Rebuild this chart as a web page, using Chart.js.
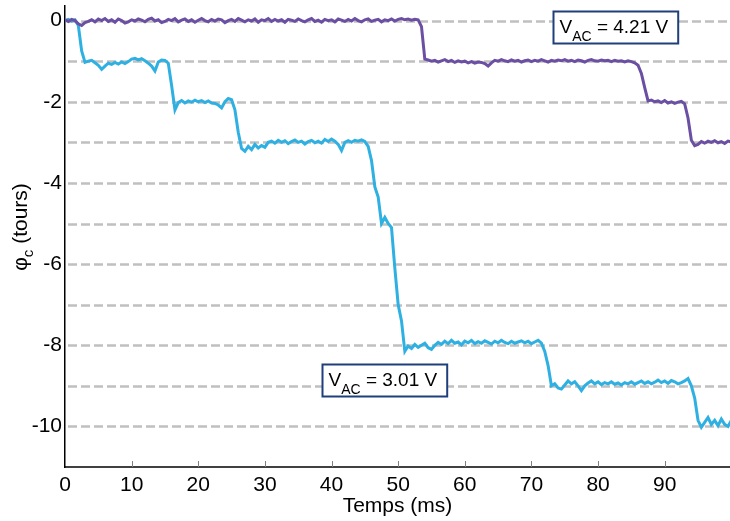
<!DOCTYPE html>
<html><head><meta charset="utf-8">
<script src="https://cdn.jsdelivr.net/npm/chart.js@4/dist/chart.umd.min.js"></script>
<style>html,body{margin:0;padding:0;background:#fff}</style>
</head><body>
<canvas id="c" width="730" height="521"></canvas>
<script>
// ---- data ----
const sampleStepMs = 0.5;
const timeMs = Array.from({length: 201}, (_, i) => i * sampleStepMs);

// V_AC = 4.21 V (purple), one value every 0.5 ms from 0 to 100 ms
const phaseHigh = [
  0.02,-0.02,0.03,0.00,-0.08,-0.12,-0.05,-0.02,0.02,-0.03,
  0.04,0.00,0.05,-0.02,0.02,-0.04,0.04,0.00,-0.06,-0.03,
  0.02,-0.01,0.04,0.01,-0.03,0.03,0.06,-0.01,0.02,-0.05,
  -0.02,0.03,0.00,0.05,-0.03,0.01,0.04,-0.02,0.02,-0.04,
  0.01,0.05,0.00,-0.03,0.03,-0.01,0.04,0.02,-0.05,0.00,
  0.03,-0.02,0.05,0.01,-0.03,0.02,-0.01,0.04,-0.04,0.02,
  0.00,0.05,-0.02,0.03,-0.01,0.02,-0.04,0.03,0.01,-0.02,
  0.04,0.00,-0.03,0.02,0.05,-0.02,0.01,-0.04,0.03,0.00,
  0.02,-0.03,0.04,0.01,-0.02,0.03,-0.01,0.05,0.00,-0.03,
  0.02,0.04,-0.02,0.01,0.03,-0.03,0.02,0.00,0.04,-0.01,
  0.03,0.05,0.02,0.04,0.01,0.03,0.02,-0.15,-0.95,-0.97,
  -1.00,-0.98,-1.02,-0.99,-0.96,-1.01,-0.98,-1.03,-0.99,-1.02,
  -1.00,-1.04,-1.01,-1.05,-1.02,-1.03,-1.06,-1.12,-1.04,-0.98,
  -1.00,-0.96,-0.99,-1.01,-0.97,-1.00,-0.98,-1.02,-0.99,-0.97,
  -1.01,-0.98,-1.00,-0.96,-0.99,-1.02,-0.98,-1.00,-0.97,-0.99,
  -0.96,-1.00,-0.98,-1.01,-0.97,-0.99,-1.02,-0.98,-0.96,-0.99,
  -1.00,-0.97,-0.99,-0.98,-1.01,-0.98,-1.00,-0.99,-1.02,-0.99,
  -1.01,-1.04,-1.10,-1.30,-1.65,-1.98,-1.96,-2.00,-1.98,-2.02,
  -1.97,-2.03,-2.00,-2.04,-2.01,-1.99,-2.05,-2.40,-2.95,-3.08,
  -3.05,-2.98,-3.02,-2.97,-3.00,-2.96,-3.01,-2.98,-3.03,-2.97,
  -2.99
];

// V_AC = 3.01 V (cyan), one value every 0.5 ms from 0 to 100 ms
const phaseLow = [
  0.00,0.03,-0.01,0.02,-0.12,-0.75,-1.03,-1.00,-0.98,-1.04,
  -1.10,-1.20,-1.12,-1.05,-1.08,-1.03,-1.07,-1.02,-1.06,-1.01,
  -0.95,-0.93,-0.97,-0.94,-0.99,-1.05,-1.12,-1.24,-1.02,-0.97,
  -0.98,-1.05,-1.60,-2.20,-2.02,-1.97,-2.03,-1.98,-2.01,-1.96,
  -2.00,-1.97,-2.02,-1.98,-2.03,-2.04,-2.08,-2.15,-2.00,-1.92,
  -1.95,-2.20,-2.75,-3.15,-3.22,-3.10,-3.18,-3.05,-3.14,-3.08,
  -3.12,-3.00,-2.97,-3.02,-2.95,-3.00,-2.96,-3.03,-2.98,-2.94,
  -3.00,-2.97,-3.04,-2.98,-2.95,-3.01,-2.97,-3.02,-2.93,-2.98,
  -2.92,-2.97,-3.05,-3.20,-3.00,-2.96,-3.00,-2.95,-2.97,-2.94,
  -2.98,-3.10,-3.45,-4.10,-4.35,-5.00,-4.85,-5.00,-5.10,-6.10,
  -7.00,-7.40,-8.15,-8.02,-8.08,-7.98,-8.05,-8.00,-7.95,-8.06,
  -8.10,-8.00,-7.93,-7.98,-7.90,-7.96,-7.88,-7.95,-7.92,-7.99,
  -7.90,-7.94,-7.88,-7.96,-7.91,-7.95,-7.89,-7.93,-7.97,-7.90,
  -7.94,-7.88,-7.93,-7.96,-7.90,-7.95,-7.92,-7.89,-7.94,-7.90,
  -7.96,-7.92,-7.88,-7.95,-8.15,-8.50,-9.00,-8.95,-9.05,-9.08,
  -8.98,-8.88,-8.95,-8.90,-9.00,-9.12,-9.00,-8.93,-8.88,-8.95,
  -8.90,-8.97,-8.92,-8.95,-8.90,-8.96,-8.93,-8.98,-8.92,-8.95,
  -8.90,-8.96,-8.92,-8.88,-8.94,-8.90,-8.95,-8.91,-8.86,-8.92,
  -8.88,-8.94,-8.87,-8.90,-8.95,-8.92,-8.88,-8.82,-9.00,-9.30,
  -9.85,-10.02,-9.90,-9.78,-9.95,-9.85,-9.98,-9.82,-9.95,-10.00,
  -9.85
];

const xTickValues = [0, 10, 20, 30, 40, 50, 60, 70, 80, 90];
const yGridValues = [0, -1, -2, -3, -4, -5, -6, -7, -8, -9, -10];
const xTitle = 'Temps (ms)';
const yTitleParts = ['\u03C6', 'c', ' (tours)'];
const annotations = [
  {x: 73.2, y: 0.24, main: 'V', sub: 'AC', rest: ' = 4.21 V'},
  {x: 38.5, y: -8.46, main: 'V', sub: 'AC', rest: ' = 3.01 V'}
];

const FONT = '"Liberation Sans", Arial, Helvetica, sans-serif';

const deco = {
  id: 'deco',
  beforeDatasetsDraw(chart) {
    const {ctx, chartArea: a, scales: {x, y}} = chart;
    ctx.save();
    ctx.strokeStyle = '#c0c0c0';
    ctx.lineWidth = 2.5;
    ctx.setLineDash([9, 4]);
    yGridValues.forEach(v => {
      const py = Math.round(y.getPixelForValue(v)) + 0.5;
      ctx.beginPath(); ctx.moveTo(a.left + 3, py); ctx.lineTo(a.right, py); ctx.stroke();
    });
    ctx.setLineDash([]);
    ctx.strokeStyle = '#808080';
    ctx.lineWidth = 1;
    xTickValues.forEach(v => {
      if (v === 0) return;
      const px = Math.round(x.getPixelForValue(v)) + 0.5;
      ctx.beginPath(); ctx.moveTo(px, a.bottom); ctx.lineTo(px, a.bottom - 6); ctx.stroke();
    });
    ctx.restore();
  },
  afterDraw(chart) {
    const {ctx, chartArea: a, scales: {x, y}} = chart;
    ctx.save();
    ctx.fillStyle = '#000';
    // x title
    ctx.font = '21px ' + FONT;
    ctx.textAlign = 'center';
    ctx.textBaseline = 'alphabetic';
    ctx.fillText(xTitle, (a.left + a.right) / 2, 512);
    // y title (rotated, with subscript)
    ctx.save();
    ctx.translate(27, 227);
    ctx.rotate(-Math.PI / 2);
    ctx.textAlign = 'left';
    ctx.font = '21px ' + FONT;
    const w1 = ctx.measureText(yTitleParts[0]).width;
    const w3 = ctx.measureText(yTitleParts[2]).width;
    ctx.font = '15px ' + FONT;
    const w2 = ctx.measureText(yTitleParts[1]).width;
    const total = w1 + w2 + w3;
    let sx = -total / 2;
    ctx.font = '21px ' + FONT;
    ctx.fillText(yTitleParts[0], sx, 0);
    ctx.font = '15px ' + FONT;
    ctx.fillText(yTitleParts[1], sx + w1, 6);
    ctx.font = '21px ' + FONT;
    ctx.fillText(yTitleParts[2], sx + w1 + w2, 0);
    ctx.restore();
    // annotation boxes
    annotations.forEach(an => {
      const px = Math.round(x.getPixelForValue(an.x)) + 0.5;
      const py = Math.round(y.getPixelForValue(an.y)) + 0.5;
      ctx.font = '19px ' + FONT;
      const m1 = ctx.measureText(an.main).width;
      const m3 = ctx.measureText(an.rest).width;
      ctx.font = '14px ' + FONT;
      const m2 = ctx.measureText(an.sub).width;
      const w = 6 + m1 + m2 + m3 + 10;
      const h = 32;
      ctx.fillStyle = '#fff';
      ctx.fillRect(px, py, w, h);
      ctx.strokeStyle = '#1f3f7a';
      ctx.lineWidth = 2;
      ctx.strokeRect(px, py, w, h);
      ctx.fillStyle = '#000';
      ctx.textAlign = 'left';
      ctx.font = '19px ' + FONT;
      ctx.fillText(an.main, px + 6, py + 21);
      ctx.font = '14px ' + FONT;
      ctx.fillText(an.sub, px + 6 + m1, py + 29);
      ctx.font = '19px ' + FONT;
      ctx.fillText(an.rest, px + 6 + m1 + m2, py + 21);
    });
    ctx.restore();
  }
};

new Chart(document.getElementById('c'), {
  type: 'line',
  data: {
    datasets: [
      {label: 'V_AC = 4.21 V', data: timeMs.map((t, i) => ({x: t, y: phaseHigh[i]})),
       borderColor: '#6a4fa3', borderWidth: 3, pointRadius: 0, tension: 0, fill: false},
      {label: 'V_AC = 3.01 V', data: timeMs.map((t, i) => ({x: t, y: phaseLow[i]})),
       borderColor: '#2fb0e2', borderWidth: 3, pointRadius: 0, tension: 0, fill: false}
    ]
  },
  options: {
    responsive: false,
    animation: false,
    devicePixelRatio: 1,
    layout: {padding: {top: 6, right: 0, left: 0, bottom: 0}},
    plugins: {legend: {display: false}, tooltip: {enabled: false}},
    scales: {
      x: {
        type: 'linear', min: 0, max: 99.8,
        afterBuildTicks: s => { s.ticks = xTickValues.map(v => ({value: v})); },
        afterFit: s => { s.height = 54; s.paddingLeft = 0; s.paddingRight = 0; },
        grid: {display: false, drawTicks: false},
        border: {display: true, color: '#404040', width: 2},
        ticks: {color: '#000', font: {size: 21, family: FONT}, padding: 6, maxRotation: 0, autoSkip: false,
                callback: v => String(v)}
      },
      y: {
        type: 'linear', min: -11, max: 0.36,
        afterBuildTicks: s => { s.ticks = yGridValues.map(v => ({value: v})); },
        afterFit: s => { s.width = 65; s.paddingTop = 0; s.paddingBottom = 0; },
        grid: {display: false, drawTicks: false},
        border: {display: true, color: '#000', width: 1.5},
        ticks: {color: '#000', font: {size: 21, family: FONT}, padding: 3, autoSkip: false,
                callback: v => (v % 2 === 0 ? String(v) : '')}
      }
    }
  },
  plugins: [deco]
});
</script>
</body></html>
